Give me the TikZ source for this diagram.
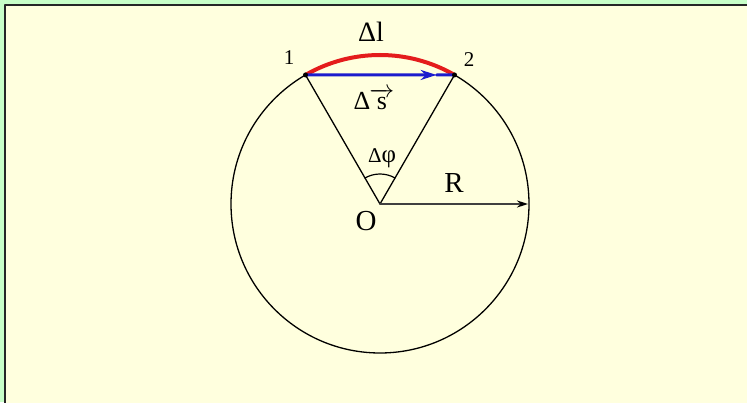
\documentclass[tikz,border=0pt]{standalone}
\usepackage{fontspec}
\usepackage{amsmath}
\setmainfont{Liberation Serif}
\usetikzlibrary{calc,arrows.meta}
\definecolor{pagegreen}{RGB}{200,255,200}
\definecolor{paneyellow}{RGB}{255,255,222}
\definecolor{arcred}{RGB}{228,28,28}
\definecolor{chordblue}{RGB}{28,28,205}

\begin{document}
\begin{tikzpicture}[x=1pt, y=1pt, line cap=round, line join=round,
  lbl/.style={inner sep=0pt, anchor=base}]
  \useasboundingbox (0,0) rectangle (747,402);
  % --- panel (green page, yellow sheet with a dark top/left edge) ---
  \fill[pagegreen] (0,0) rectangle (747,402);
  \fill[paneyellow] (5,-10) rectangle (760,397);
  \draw[black!85, line width=2pt, line cap=butt] (5,-10) -- (5,397) -- (760,397);

  % --- circle and its points ---
  \coordinate (O) at (380,198);
  \coordinate (P-1) at ($(O)+(120:149)$);
  \coordinate (P-2) at ($(O)+(60:149)$);
  \coordinate (R-tip) at ($(O)+(0:148)$);
  \coordinate (S-tip) at ($(P-1)!0.88!(P-2)$);

  \draw[line width=1.3pt] (O) circle[radius=149pt];

  % radii to 1 and 2, angle mark between them
  \draw[line width=1.3pt] (P-1) -- (O) -- (P-2);
  \draw[line width=1.2pt] ($(O)+(60:30)$) arc[start angle=60, end angle=120, radius=30pt];

  % radius R
  \draw[black!75, line width=1.8pt, -{Stealth[black, length=11pt, width=7pt]}] (O) -- (R-tip);

  % === path (red arc) and displacement (blue chord) ===
  \draw[arcred, line width=4pt] (P-2) arc[start angle=60, end angle=120, radius=149pt];
  \draw[chordblue, line width=3pt, -{Stealth[length=16pt, width=10pt]}] (P-1) -- (S-tip);
  \draw[chordblue, line width=3pt] (S-tip) -- (P-2);

  \fill (P-1) circle[radius=2.5pt];
  \fill (P-2) circle[radius=2.5pt];

  % --- labels ---
  \node[lbl, font=\fontsize{28}{28}\selectfont] (lab-dl) at (371,360) {Δl};
  \node[lbl, font=\fontsize{21}{21}\selectfont] (lab-1) at (289,337) {1};
  \node[lbl, font=\fontsize{21}{21}\selectfont] (lab-2) at (469,335) {2};
  \node[lbl, font=\fontsize{26}{26}\selectfont] (lab-ds) at (374,292)
    {Δ\kern-1pt$\overrightarrow{\text{s}}$};
  \node[lbl] (lab-dphi) at (382,239)
    {\fontsize{21}{21}\selectfont Δ\fontsize{25}{25}\selectfont φ};
  \node[lbl, font=\fontsize{29}{29}\selectfont] (lab-R) at (454,209) {R};
  \node[lbl, font=\fontsize{29}{29}\selectfont] (lab-O) at (366,171) {O};
\end{tikzpicture}
\end{document}
